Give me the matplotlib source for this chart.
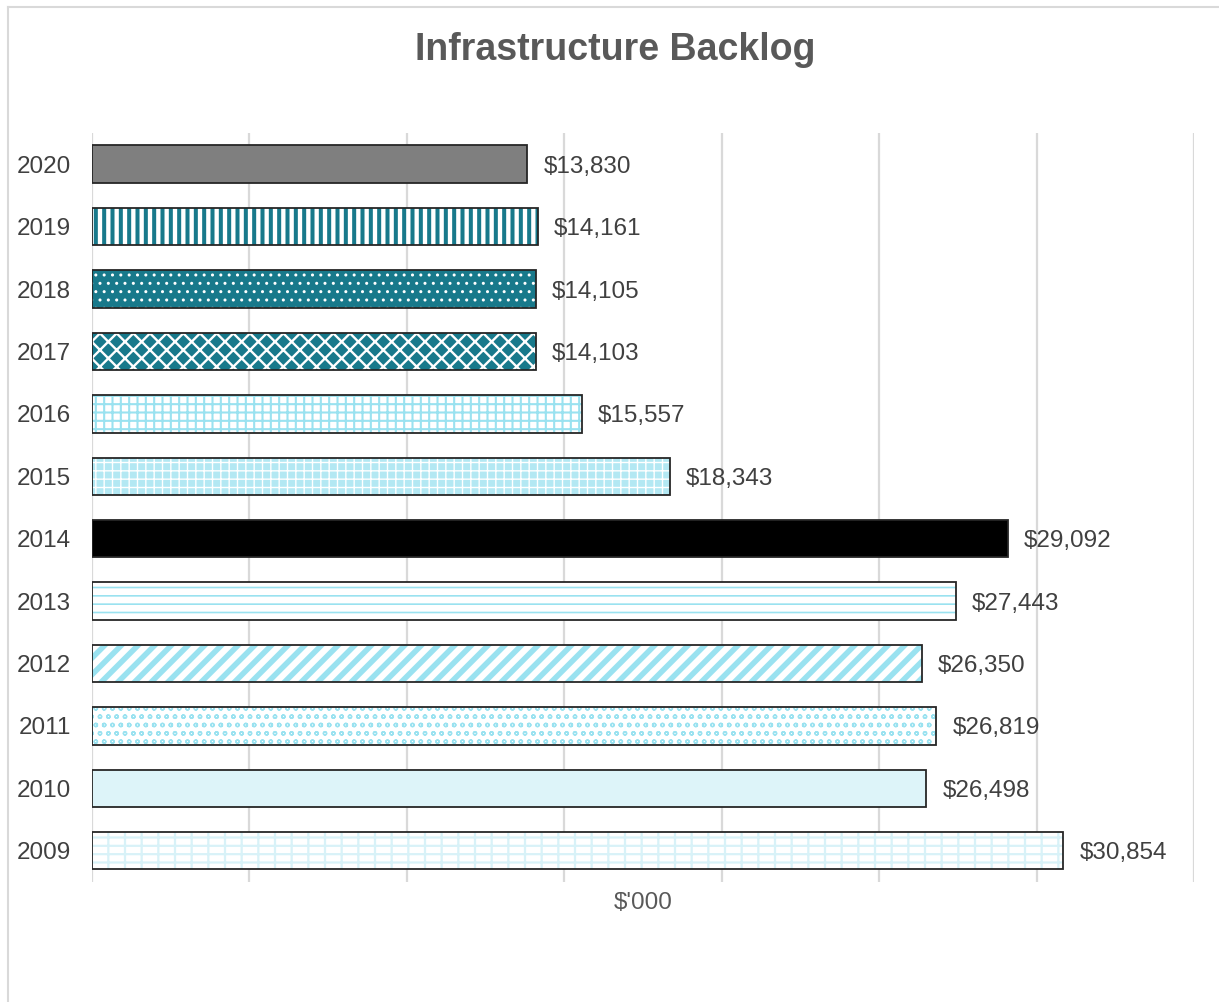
import matplotlib.pyplot as plt
from matplotlib.lines import Line2D

plt.rcParams['font.family'] = ['Liberation Sans', 'DejaVu Sans']

years = ['2009', '2010', '2011', '2012', '2013', '2014',
         '2015', '2016', '2017', '2018', '2019', '2020']
backlog = [30854, 26498, 26819, 26350, 27443, 29092,
           18343, 15557, 14103, 14105, 14161, 13830]

teal = '#18798b'
light = '#9ae2f0'
# face colour, hatch, hatch colour, hatch linewidth for each year
styles = [
    ('white', '--|', '#d8f2f8', 1.6),   # 2009 brick
    ('#ddf4f9', None, None, 0),         # 2010
    ('white', 'oo', light, 1.0),        # 2011 wave
    ('white', '//', light, 4.0),        # 2012
    ('white', '--', light, 1.2),        # 2013
    ('black', None, None, 0),           # 2014
    ('#b3e8f3', '++', 'white', 1.0),    # 2015
    ('white', '++', light, 1.5),        # 2016
    (teal, 'xx', 'white', 1.7),         # 2017 diamonds
    (teal, '..', 'white', 1.0),         # 2018
    ('white', '||', teal, 2.9),         # 2019
    ('#7f7f7f', None, None, 0),         # 2020
]

fig = plt.figure(figsize=(12.19, 10.02), dpi=100)
ax = fig.add_axes([0.0755, 0.1198, 0.904, 0.7475])

pos = list(range(len(years)))
for i, (val, (fc, hatch, hc, hlw)) in enumerate(zip(backlog, styles)):
    b = ax.barh(pos[i], val, height=0.6, color=fc, hatch=hatch,
                edgecolor=hc if hc else fc, linewidth=0, zorder=2)[0]
    if hatch and hasattr(b, 'set_hatch_linewidth'):
        b.set_hatch_linewidth(hlw)
    ax.barh(pos[i], val, height=0.6, fill=False, edgecolor='#262626',
            linewidth=1.3, zorder=3)
    ax.annotate(f'${val:,}', (val, pos[i]), xytext=(11.5, 0),
                textcoords='offset points', va='center_baseline', ha='left',
                fontsize=17.5, color='#404040')

ax.set_xlim(0, 35000)
ax.set_ylim(-0.5, 11.5)
ax.set_xticks(range(0, 35001, 5000))
ax.set_xticklabels([])
ax.set_yticks(pos)
ax.set_yticklabels(years, fontsize=17.5, color='#404040', va='center_baseline')
ax.tick_params(axis='both', length=0)
ax.tick_params(axis='y', pad=15)
ax.xaxis.grid(True, color='#d9d9d9', linewidth=1.6, zorder=0)
ax.set_axisbelow(True)
for s in ax.spines.values():
    s.set_visible(False)

ax.set_xlabel("$'000", fontsize=17.5, color='#595959', labelpad=4)
fig.text(0.505, 0.95, 'Infrastructure Backlog', ha='center', va='center',
         fontsize=27, fontweight='bold', color='#595959')

# chart border (left and top edges visible)
fig.add_artist(Line2D([0.0066, 0.0066], [0, 0.993], color='#d9d9d9', linewidth=1.5))
fig.add_artist(Line2D([0.0066, 1], [0.993, 0.993], color='#d9d9d9', linewidth=1.5))

fig.savefig('out.png', dpi=100)
